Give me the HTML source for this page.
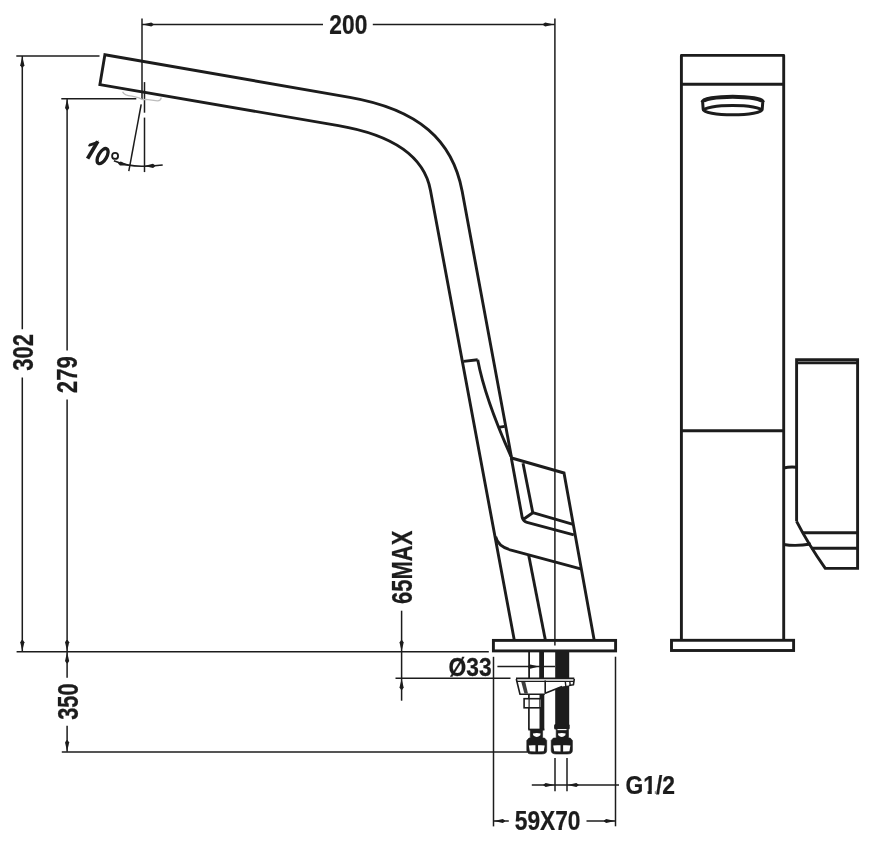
<!DOCTYPE html>
<html><head><meta charset="utf-8"><style>
html,body{margin:0;padding:0;background:#fff;}
svg{display:block;}
text{font-family:"Liberation Sans",sans-serif;font-weight:bold;fill:#1c1c1c;stroke:#1c1c1c;stroke-width:0.25px;}
svg{will-change:transform;}
</style></head><body>
<svg width="876" height="844" viewBox="0 0 876 844">
<rect width="876" height="844" fill="#fff"/>
<line x1="142.00" y1="24.50" x2="323.00" y2="24.50" stroke="#1c1c1c" stroke-width="1.5"/>
<line x1="372.80" y1="24.50" x2="554.70" y2="24.50" stroke="#1c1c1c" stroke-width="1.5"/>
<path d="M142.50,24.50 L151.30,22.40 L153.50,23.90 L153.50,25.10 L151.30,26.60 Z" fill="#1c1c1c"/>
<path d="M554.00,24.50 L545.20,26.60 L543.00,25.10 L543.00,23.90 L545.20,22.40 Z" fill="#1c1c1c"/>
<text transform="translate(329.32,33.80) scale(0.8194,1)" font-size="27.79">200</text>
<line x1="142.00" y1="18.50" x2="142.00" y2="99.20" stroke="#1c1c1c" stroke-width="1.5"/>
<line x1="554.90" y1="18.50" x2="554.90" y2="645.50" stroke="#1c1c1c" stroke-width="1.5"/>
<line x1="22.30" y1="56.00" x2="22.30" y2="329.20" stroke="#1c1c1c" stroke-width="1.5"/>
<line x1="22.30" y1="377.50" x2="22.30" y2="651.60" stroke="#1c1c1c" stroke-width="1.5"/>
<path d="M22.30,56.50 L24.40,65.30 L22.90,67.50 L21.70,67.50 L20.20,65.30 Z" fill="#1c1c1c"/>
<path d="M22.30,651.00 L20.20,642.20 L21.70,640.00 L22.90,640.00 L24.40,642.20 Z" fill="#1c1c1c"/>
<text transform="translate(33.11,370.77) rotate(-90) scale(0.7513,1)" font-size="29.24">302</text>
<line x1="16.30" y1="56.00" x2="99.50" y2="56.00" stroke="#1c1c1c" stroke-width="1.5"/>
<line x1="67.10" y1="98.70" x2="67.10" y2="350.50" stroke="#1c1c1c" stroke-width="1.5"/>
<line x1="67.10" y1="399.60" x2="67.10" y2="651.60" stroke="#1c1c1c" stroke-width="1.5"/>
<path d="M67.10,99.20 L69.20,108.00 L67.70,110.20 L66.50,110.20 L65.00,108.00 Z" fill="#1c1c1c"/>
<path d="M67.10,651.00 L65.00,642.20 L66.50,640.00 L67.70,640.00 L69.20,642.20 Z" fill="#1c1c1c"/>
<text transform="translate(77.49,393.15) rotate(-90) scale(0.7654,1)" font-size="28.92">279</text>
<line x1="61.30" y1="98.70" x2="136.30" y2="98.70" stroke="#1c1c1c" stroke-width="1.5"/>
<line x1="16.60" y1="651.70" x2="488.80" y2="651.70" stroke="#1c1c1c" stroke-width="1.5"/>
<line x1="67.10" y1="651.70" x2="67.10" y2="677.80" stroke="#1c1c1c" stroke-width="1.5"/>
<line x1="67.10" y1="725.80" x2="67.10" y2="751.80" stroke="#1c1c1c" stroke-width="1.5"/>
<path d="M67.10,652.20 L69.20,661.00 L67.70,663.20 L66.50,663.20 L65.00,661.00 Z" fill="#1c1c1c"/>
<path d="M67.10,751.30 L65.00,742.50 L66.50,740.30 L67.70,740.30 L69.20,742.50 Z" fill="#1c1c1c"/>
<text transform="translate(78.41,719.77) rotate(-90) scale(0.7343,1)" font-size="29.66">350</text>
<line x1="61.80" y1="751.90" x2="527.00" y2="751.90" stroke="#1c1c1c" stroke-width="1.5"/>
<line x1="401.60" y1="610.70" x2="401.60" y2="651.70" stroke="#1c1c1c" stroke-width="1.5"/>
<path d="M401.60,651.20 L399.50,642.40 L401.00,640.20 L402.20,640.20 L403.70,642.40 Z" fill="#1c1c1c"/>
<line x1="401.60" y1="651.70" x2="401.60" y2="700.70" stroke="#1c1c1c" stroke-width="1.5"/>
<path d="M401.60,678.80 L403.70,687.60 L402.20,689.80 L401.00,689.80 L399.50,687.60 Z" fill="#1c1c1c"/>
<text transform="translate(412.49,603.90) rotate(-90) scale(0.7491,1)" font-size="29.34">65MAX</text>
<line x1="395.50" y1="678.30" x2="510.50" y2="678.30" stroke="#1c1c1c" stroke-width="1.5"/>
<line x1="497.40" y1="666.60" x2="555.00" y2="666.60" stroke="#1c1c1c" stroke-width="1.5"/>
<path d="M539.00,666.60 L530.20,668.70 L528.00,667.20 L528.00,666.00 L530.20,664.50 Z" fill="#1c1c1c"/>
<line x1="493.50" y1="656.80" x2="493.50" y2="826.40" stroke="#1c1c1c" stroke-width="1.5"/>
<text transform="translate(448.61,675.89) scale(0.8997,1)" font-size="25.33">Ø33</text>
<line x1="615.50" y1="656.70" x2="615.50" y2="826.30" stroke="#1c1c1c" stroke-width="1.5"/>
<line x1="493.50" y1="821.00" x2="508.80" y2="821.00" stroke="#1c1c1c" stroke-width="1.5"/>
<path d="M494.00,821.00 L502.80,818.90 L505.00,820.40 L505.00,821.60 L502.80,823.10 Z" fill="#1c1c1c"/>
<line x1="586.50" y1="821.00" x2="615.50" y2="821.00" stroke="#1c1c1c" stroke-width="1.5"/>
<path d="M615.00,821.00 L606.20,823.10 L604.00,821.60 L604.00,820.40 L606.20,818.90 Z" fill="#1c1c1c"/>
<text transform="translate(514.74,830.11) scale(0.8358,1)" font-size="27.22">59X70</text>
<line x1="531.80" y1="785.00" x2="619.00" y2="785.00" stroke="#1c1c1c" stroke-width="1.5"/>
<path d="M554.50,785.00 L545.70,787.10 L543.50,785.60 L543.50,784.40 L545.70,782.90 Z" fill="#1c1c1c"/>
<path d="M567.50,785.00 L576.30,782.90 L578.50,784.40 L578.50,785.60 L576.30,787.10 Z" fill="#1c1c1c"/>
<line x1="555.00" y1="758.00" x2="555.00" y2="791.20" stroke="#1c1c1c" stroke-width="1.5"/>
<line x1="567.00" y1="758.00" x2="567.00" y2="791.20" stroke="#1c1c1c" stroke-width="1.5"/>
<defs><clipPath id="c1"><path clip-rule="evenodd" d="M600,760 H700 V800 H600 Z M642.5,790.2 H647.6 V796 H642.5 Z M651.8,790.2 H654.9 V796 H651.8 Z"/></clipPath></defs><g clip-path="url(#c1)">
<text transform="translate(625.50,794.45) scale(0.8670,1)" font-size="26.39">G1/2</text>
</g>
<line x1="144.50" y1="82.10" x2="144.50" y2="112.70" stroke="#1c1c1c" stroke-width="1.5"/>
<line x1="144.50" y1="117.60" x2="144.50" y2="172.10" stroke="#1c1c1c" stroke-width="1.5"/>
<line x1="141.20" y1="104.30" x2="128.80" y2="171.10" stroke="#1c1c1c" stroke-width="1.5"/>
<path d="M113.9,160.8 Q128,166.8 144.6,166.2 Q155,165.8 162.7,164.9" fill="none" stroke="#1c1c1c" stroke-width="1.5" />
<path d="M129.00,165.40 L119.95,165.56 L118.13,163.62 L118.39,162.45 L120.86,161.46 Z" fill="#1c1c1c"/>
<path d="M144.20,166.10 L152.93,163.74 L155.18,165.17 L155.21,166.37 L153.06,167.94 Z" fill="#1c1c1c"/>
<line x1="87.60" y1="158.60" x2="97.80" y2="141.40" stroke="#1c1c1c" stroke-width="3.8"/>
<path d="M98.9,140.6 L96.3,144.6 L89.6,146.6 Q87.8,146.8 88.4,145.2 L89.2,143.8 Z" fill="#1c1c1c"/>
<ellipse cx="102.6" cy="156.1" rx="4.1" ry="8.4" fill="none" stroke="#1c1c1c" stroke-width="3.3" transform="rotate(30 102.6 156.1)"/>
<circle cx="115.1" cy="155.9" r="3.0" fill="none" stroke="#1c1c1c" stroke-width="1.8"/>
<path d="M122.6,91.8 Q124,95.6 132,96.2 L139,97.8 L142.5,99.6 L146,99.4 L157.5,100.8 Q160.8,100.6 161.3,97.6" fill="none" stroke="#bdbdbd" stroke-width="1.3" />
<path d="M594.3,640.7 L564,473 L511.6,458 L462.16,191.29 C452.75,140.69 419.17,109.48 349.78,97.41 L104.9,54.8 L99.9,84.6 L338.44,125.63 C381.34,133.01 422.85,149.44 430.44,190.18 L514.4,640.7" fill="none" stroke="#1c1c1c" stroke-width="2.9" stroke-linejoin="miter"/>
<path d="M463.50,361.40 L477.70,359.70" fill="none" stroke="#1c1c1c" stroke-width="2.9" stroke-linejoin="round"/>
<path d="M477.7,359.7 C482.4,384.7 496,423 511.1,456.6" fill="none" stroke="#1c1c1c" stroke-width="2.9" />
<path d="M498.30,427.40 L504.70,426.40" fill="none" stroke="#1c1c1c" stroke-width="2.9" stroke-linejoin="round"/>
<path d="M511.3,458 L522.2,517.5 Q523.5,521.5 527,522.4 L573.8,534.9" fill="none" stroke="#1c1c1c" stroke-width="2.9" />
<path d="M523.00,463.20 L532.80,512.70 L573.10,524.40" fill="none" stroke="#1c1c1c" stroke-width="2.9" stroke-linejoin="round"/>
<path d="M522.80,519.80 L532.80,512.70" fill="none" stroke="#1c1c1c" stroke-width="2.9" stroke-linejoin="round"/>
<path d="M495.6,536.7 Q498,547 512,550.4 L580.7,568.8" fill="none" stroke="#1c1c1c" stroke-width="2.9" />
<path d="M528.70,555.20 L545.50,640.70" fill="none" stroke="#1c1c1c" stroke-width="2.9" stroke-linejoin="round"/>
<rect x="493.4" y="640.4" width="122.2" height="10.5" fill="none" stroke="#1c1c1c" stroke-width="2.9"/>
<line x1="529.10" y1="651.00" x2="529.10" y2="678.00" stroke="#1c1c1c" stroke-width="1.8"/>
<rect x="539.2" y="651" width="4.8" height="27" fill="#1c1c1c"/>
<rect x="555.2" y="651" width="14" height="78" fill="#1c1c1c"/>
<path d="M516,678.6 L574.3,678.6 L573.4,684.8 L562,686.5 L545.2,693.3 L544.8,694.2 L520,694.2 Z" fill="#fff"/>
<line x1="516.00" y1="678.40" x2="574.30" y2="678.40" stroke="#1c1c1c" stroke-width="1.6"/>
<line x1="517.00" y1="681.30" x2="573.80" y2="681.30" stroke="#1c1c1c" stroke-width="1.2"/>
<path d="M516.30,679.00 L520.00,694.20 L544.80,694.20" fill="none" stroke="#1c1c1c" stroke-width="1.6" stroke-linejoin="round"/>
<line x1="545.20" y1="680.60" x2="545.20" y2="693.80" stroke="#1c1c1c" stroke-width="1.6"/>
<path d="M545.20,693.30 L562.00,686.50" fill="none" stroke="#1c1c1c" stroke-width="1.6" stroke-linejoin="round"/>
<path d="M574.30,678.80 L573.40,684.80 L569.00,685.50" fill="none" stroke="#1c1c1c" stroke-width="1.6" stroke-linejoin="round"/>
<path d="M521.2,681.8 L525.2,681.8 L528,693.6 L524.4,693.6 Z" fill="#1c1c1c" opacity="0.85"/>
<path d="M565.3,681.5 L565.8,686.2 M569.8,681.5 L570.2,685.6" fill="none" stroke="#1c1c1c" stroke-width="1.4" />
<line x1="528.90" y1="694.00" x2="528.90" y2="729.60" stroke="#1c1c1c" stroke-width="1.7"/>
<rect x="539.5" y="694" width="4.8" height="35.6" fill="#1c1c1c"/>
<rect x="524.1" y="698.7" width="17.4" height="9.1" fill="#fff" stroke="#1c1c1c" stroke-width="1.6"/>
<line x1="529.10" y1="698.70" x2="529.10" y2="707.80" stroke="#1c1c1c" stroke-width="1.2"/>
<line x1="539.90" y1="698.70" x2="539.90" y2="707.80" stroke="#1c1c1c" stroke-width="1.2"/>
<line x1="528.30" y1="729.60" x2="544.40" y2="729.60" stroke="#1c1c1c" stroke-width="1.8"/>
<path d="M530.3,729.4 L542.6,729.4 L542.6,738.0 L544.5,738.0 L546.7,740.4 L546.7,750.5 Q546.7,754.0 541.7,754.0 L531.8,754.0 Q526.8,754.0 526.8,750.5 L526.8,740.4 L529.0,738.0 L530.3,738.0 Z" fill="#1c1c1c" stroke="#1c1c1c" stroke-width="0.6" />
<path d="M532.90,733.4 Q536.75,732.6 540.60,733.4 L540.30,735.2 Q536.75,738.6 533.20,735.2 Z" fill="#fff"/>
<path d="M528.80,745.6 Q531.80,744.9 535.45,745.3 L535.45,751.6 L529.80,751.2 Z" fill="#fff"/>
<path d="M538.05,745.3 Q541.70,744.9 544.70,745.6 L543.70,751.2 L538.05,751.6 Z" fill="#fff"/>
<path d="M556.2,729.4 L568.5,729.4 L568.5,738.0 L570.1999999999999,738.0 L572.4,740.4 L572.4,750.5 Q572.4,754.0 567.4,754.0 L556.2,754.0 Q551.2,754.0 551.2,750.5 L551.2,740.4 L553.4000000000001,738.0 L556.2,738.0 Z" fill="#1c1c1c" stroke="#1c1c1c" stroke-width="0.6" />
<path d="M557.95,733.4 Q561.80,732.6 565.65,733.4 L565.35,735.2 Q561.80,738.6 558.25,735.2 Z" fill="#fff"/>
<path d="M553.20,745.6 Q556.20,744.9 560.50,745.3 L560.50,751.6 L554.20,751.2 Z" fill="#fff"/>
<path d="M563.10,745.3 Q567.40,744.9 570.40,745.6 L569.40,751.2 L563.10,751.6 Z" fill="#fff"/>
<rect x="554.1" y="723.9" width="15.5" height="5.5" rx="1.5" fill="#1c1c1c"/>
<line x1="557.50" y1="729.60" x2="566.50" y2="729.60" stroke="#fff" stroke-width="1.1"/>
<path d="M681.40,640.30 L681.40,55.40 L783.70,55.40 L783.70,640.30" fill="none" stroke="#1c1c1c" stroke-width="2.9" stroke-linejoin="round"/>
<line x1="681.40" y1="84.20" x2="783.70" y2="84.20" stroke="#1c1c1c" stroke-width="2.9"/>
<line x1="681.40" y1="430.70" x2="783.70" y2="430.70" stroke="#1c1c1c" stroke-width="2.9"/>
<rect x="671.5" y="640.3" width="122.1" height="10.2" fill="none" stroke="#1c1c1c" stroke-width="2.9"/>
<path d="M702.6,102 A30.1,5.3 0 0 1 762.8,102" fill="none" stroke="#1c1c1c" stroke-width="4.0" />
<path d="M702.6,101.5 L703.2,109.5 A29.5,5.2 0 0 0 762.2,109.5 L762.8,101.5" fill="none" stroke="#1c1c1c" stroke-width="3.0" />
<path d="M703.6,110.5 A29,5.0 0 0 1 761.6,110.5" fill="none" stroke="#1c1c1c" stroke-width="3.0" />
<path d="M796.6,521.3 L796.6,359.7 L857.6,359.7 L857.6,568.4 L825.3,568.4 Q808,543.6 796.6,521.3" fill="none" stroke="#1c1c1c" stroke-width="2.9" stroke-linejoin="miter"/>
<line x1="796.60" y1="362.90" x2="857.60" y2="362.90" stroke="#1c1c1c" stroke-width="2.9"/>
<line x1="803.00" y1="532.70" x2="857.60" y2="532.70" stroke="#1c1c1c" stroke-width="2.9"/>
<line x1="811.00" y1="548.30" x2="857.60" y2="548.30" stroke="#1c1c1c" stroke-width="2.9"/>
<path d="M783.7,468 Q790,466.5 796.6,467.3" fill="none" stroke="#1c1c1c" stroke-width="2.9" />
<path d="M783.7,544.5 Q796,546.5 810.8,544" fill="none" stroke="#1c1c1c" stroke-width="2.9" />
</svg></body></html>
